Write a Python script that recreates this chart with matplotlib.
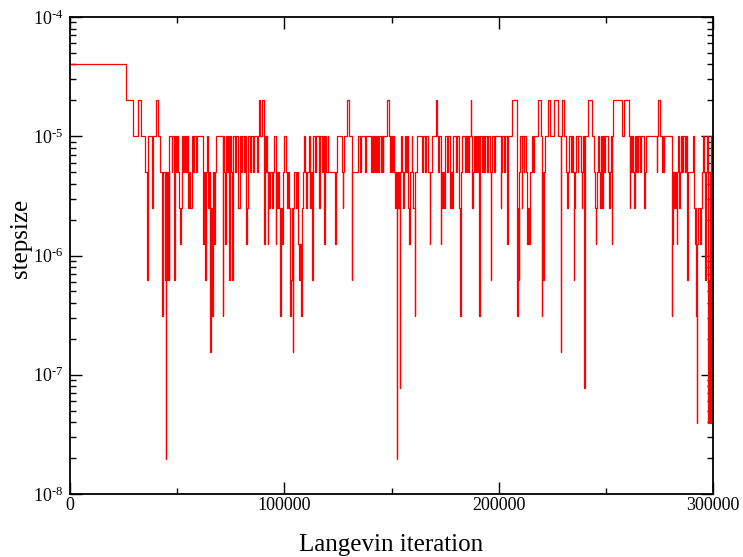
import math
import matplotlib
matplotlib.use("Agg")
import matplotlib.pyplot as plt
from matplotlib.ticker import FixedLocator, LogLocator, MultipleLocator, FuncFormatter, NullFormatter

plt.rcParams['font.family'] = ['Liberation Serif', 'DejaVu Serif']
plt.rcParams['mathtext.fontset'] = 'custom'
plt.rcParams['mathtext.rm'] = 'Liberation Serif'

# stepsize is held until the next iteration (step plot)
iteration = [
    0, 26000, 29500, 31600, 33300, 35000, 35900, 36400, 38300, 38700,
    40100, 41200, 42000, 43100, 43600, 44300, 44600, 45000, 45400, 45700,
    46000, 46400, 47400, 47800, 48500, 48800, 49500, 49900, 50600, 51000,
    51500, 51800, 52100, 52900, 53200, 53700, 54000, 54400, 54700, 55200,
    55700, 56100, 56800, 57500, 58000, 58600, 59100, 62200, 62500, 63000,
    63300, 63800, 64200, 64500, 65000, 65500, 65800, 66300, 66600, 67200,
    67500, 68100, 71200, 71500, 72000, 72300, 72600, 73300, 73700, 74200,
    74500, 75300, 75600, 75900, 77000, 77300, 78200, 78500, 79100, 79800,
    80400, 81000, 81600, 81900, 82100, 82400, 82900, 84000, 84300, 85500,
    85800, 87400, 87700, 88200, 88800, 89400, 90300, 90500, 90800, 91300,
    91600, 91900, 92200, 92500, 93000, 93400, 94100, 94500, 95300, 95900,
    96200, 96700, 97200, 97600, 98100, 98400, 98900, 99400, 100000, 100600,
    101200, 101700, 102200, 102600, 102900, 103400, 103900, 104200, 104600, 105300,
    105700, 106500, 107000, 107300, 107800, 108100, 108500, 109300, 109800, 110200,
    110700, 111500, 112000, 112400, 113100, 113400, 114300, 114800, 116300, 116600,
    117700, 118200, 118700, 119000, 119300, 120200, 120500, 123600, 124000, 124400,
    126700, 127200, 127500, 128000, 129100, 130300, 131400, 131700, 134500, 135300,
    135600, 137600, 137900, 140400, 140700, 141200, 141500, 142000, 142300, 142600,
    143100, 143800, 144300, 145100, 145400, 145900, 146200, 147900, 148900, 149300,
    149600, 150100, 150400, 150900, 151200, 151300, 151600, 152300, 152600, 152700,
    153000, 153200, 153700, 153800, 154000, 154400, 155100, 155500, 155800, 156300,
    156800, 157100, 157500, 157900, 158300, 158600, 159400, 159700, 160200, 160800,
    161100, 161700, 164100, 164500, 165600, 166100, 167200, 167800, 168100, 168700,
    170600, 171100, 171800, 172300, 173000, 173200, 173700, 174200, 174700, 175000,
    175700, 176200, 177300, 177800, 178400, 178800, 179900, 180400, 181500, 182000,
    182300, 182700, 184300, 184800, 185100, 185400, 185800, 186200, 186900, 187100,
    187400, 188000, 188500, 188900, 189300, 189900, 190200, 191000, 191300, 192100,
    192500, 193300, 193600, 194400, 195200, 195900, 196300, 196600, 197000, 197700,
    198300, 200900, 201200, 201700, 202600, 203100, 203700, 204000, 204400, 206100,
    208400, 208700, 208900, 209300, 209600, 210100, 210700, 211000, 211700, 212000,
    212600, 213100, 213800, 214300, 214600, 215400, 216200, 216500, 218500, 219700,
    220100, 220400, 220800, 221100, 221500, 222900, 223800, 226000, 227800, 228900,
    229200, 229700, 230500, 231400, 232000, 232400, 233000, 233700, 234100, 234500,
    235000, 235300, 235600, 236100, 236900, 237200, 238400, 238700, 239000, 239500,
    240000, 240300, 241800, 243700, 244300, 244900, 245300, 245600, 246000, 246500,
    247000, 247300, 247600, 248100, 248400, 248800, 249300, 249800, 250900, 251300,
    251900, 252400, 252700, 253000, 253200, 257400, 258300, 260800, 261100, 261400,
    261900, 262200, 262700, 263100, 263400, 263900, 264400, 264800, 265200, 265900,
    266200, 267900, 268300, 268700, 273700, 274000, 274500, 275300, 276400, 276700,
    277000, 277300, 280700, 281000, 281300, 281600, 282300, 282600, 283000, 283400,
    283800, 284300, 284600, 285100, 285700, 286200, 286900, 287400, 288000, 288300,
    290800, 291100, 291400, 291900, 292200, 292500, 292700, 293200, 293800, 294400,
    294700, 295200, 295600, 296300, 296600, 297200, 297500, 297800, 298100, 298400,
    298700, 299100, 299400, 300000,
]

stepsize = [
    4e-5, 2e-5, 1e-5, 2e-5, 1e-5, 5e-6, 6.25e-7, 1e-5, 2.5e-6, 1e-5,
    2e-5, 1e-5, 5e-6, 3.13e-7, 5e-6, 6.25e-7, 1.95e-8, 5e-6, 6.25e-7, 5e-6,
    6.25e-7, 1e-5, 5e-6, 1e-5, 6.25e-7, 1e-5, 5e-6, 1e-5, 5e-6, 2.5e-6,
    1.25e-6, 2.5e-6, 1e-5, 5e-6, 1e-5, 5e-6, 1e-5, 5e-6, 1e-5, 2.5e-6,
    5e-6, 2.5e-6, 1e-5, 5e-6, 1e-5, 5e-6, 1e-5, 1.25e-6, 5e-6, 6.25e-7,
    5e-6, 1e-5, 5e-6, 2.5e-6, 5e-6, 1.56e-7, 2.5e-6, 3.13e-7, 5e-6, 1.25e-6,
    5e-6, 1e-5, 3.13e-7, 1e-5, 5e-6, 1.25e-6, 1e-5, 5e-6, 1e-5, 6.25e-7,
    1e-5, 5e-6, 6.25e-7, 1e-5, 5e-6, 1e-5, 5e-6, 2.5e-6, 1e-5, 5e-6,
    1e-5, 5e-6, 1e-5, 2.5e-6, 1.25e-6, 2.5e-6, 1e-5, 5e-6, 1e-5, 5e-6,
    1e-5, 5e-6, 1e-5, 2e-5, 1e-5, 2e-5, 1e-5, 1.25e-6, 1e-5, 5e-6,
    1e-5, 5e-6, 1.25e-6, 5e-6, 2.5e-6, 5e-6, 2.5e-6, 5e-6, 1e-5, 1.25e-6,
    5e-6, 2.5e-6, 5e-6, 2.5e-6, 3.13e-7, 2.5e-6, 1.25e-6, 5e-6, 1e-5, 5e-6,
    2.5e-6, 5e-6, 2.5e-6, 3.13e-7, 6.25e-7, 2.5e-6, 1.56e-7, 2.5e-6, 5e-6, 2.5e-6,
    5e-6, 1.25e-6, 6.25e-7, 1.25e-6, 3.13e-7, 2.5e-6, 5e-6, 1e-5, 5e-6, 2.5e-6,
    5e-6, 1e-5, 2.5e-6, 5e-6, 6.25e-7, 1e-5, 5e-6, 1e-5, 2.5e-6, 1e-5,
    5e-6, 1e-5, 1.25e-6, 1e-5, 5e-6, 1e-5, 5e-6, 1.25e-6, 5e-6, 1e-5,
    5e-6, 2.5e-6, 5e-6, 1e-5, 2e-5, 1e-5, 6.25e-7, 5e-6, 1e-5, 5e-6,
    1e-5, 5e-6, 1e-5, 5e-6, 1e-5, 5e-6, 1e-5, 5e-6, 1e-5, 5e-6,
    1e-5, 5e-6, 1e-5, 5e-6, 1e-5, 5e-6, 1e-5, 2e-5, 1e-5, 5e-6,
    1e-5, 5e-6, 1e-5, 5e-6, 1e-5, 5e-6, 2.5e-6, 5e-6, 1.95e-8, 2.5e-6,
    5e-6, 2.5e-6, 5e-6, 7.81e-8, 5e-6, 1e-5, 5e-6, 2.5e-6, 5e-6, 1e-5,
    5e-6, 1e-5, 5e-6, 2.5e-6, 1.25e-6, 5e-6, 1e-5, 5e-6, 2.5e-6, 3.13e-7,
    5e-6, 1e-5, 5e-6, 1e-5, 5e-6, 1e-5, 5e-6, 1.25e-6, 5e-6, 1e-5,
    2e-5, 1e-5, 5e-6, 1e-5, 1.25e-6, 5e-6, 2.5e-6, 5e-6, 2.5e-6, 1e-5,
    5e-6, 1e-5, 2.5e-6, 5e-6, 2.5e-6, 1e-5, 5e-6, 1e-5, 2.5e-6, 3.13e-7,
    5e-6, 1e-5, 5e-6, 1e-5, 5e-6, 1e-5, 5e-6, 1e-5, 2e-5, 1e-5,
    2.5e-6, 5e-6, 1e-5, 5e-6, 1e-5, 5e-6, 1e-5, 3.13e-7, 1e-5, 5e-6,
    1e-5, 5e-6, 1e-5, 5e-6, 1e-5, 5e-6, 6.25e-7, 5e-6, 1e-5, 5e-6,
    1e-5, 2.5e-6, 5e-6, 1e-5, 5e-6, 1e-5, 5e-6, 1.25e-6, 1e-5, 2e-5,
    1e-5, 3.13e-7, 2.5e-6, 6.25e-7, 5e-6, 1e-5, 2.5e-6, 1e-5, 5e-6, 1e-5,
    5e-6, 1.25e-6, 2.5e-6, 1.25e-6, 5e-6, 1e-5, 5e-6, 1e-5, 2e-5, 1e-5,
    3.13e-7, 5e-6, 6.25e-7, 5e-6, 1e-5, 2e-5, 1e-5, 2e-5, 1e-5, 1.56e-7,
    1e-5, 2e-5, 1e-5, 5e-6, 2.5e-6, 5e-6, 1e-5, 5e-6, 1e-5, 5e-6,
    6.25e-7, 2.5e-6, 5e-6, 1e-5, 5e-6, 1e-5, 5e-6, 2.5e-6, 5e-6, 1e-5,
    7.81e-8, 1e-5, 2e-5, 1e-5, 5e-6, 2.5e-6, 1.25e-6, 2.5e-6, 5e-6, 1e-5,
    5e-6, 2.5e-6, 1e-5, 5e-6, 2.5e-6, 1e-5, 5e-6, 1e-5, 5e-6, 2.5e-6,
    5e-6, 1e-5, 1.25e-6, 1e-5, 2e-5, 1e-5, 2e-5, 1e-5, 2.5e-6, 1e-5,
    5e-6, 1e-5, 5e-6, 2.5e-6, 1e-5, 5e-6, 1e-5, 5e-6, 1e-5, 5e-6,
    1e-5, 2.5e-6, 5e-6, 1e-5, 5e-6, 1e-5, 2e-5, 1e-5, 5e-6, 1e-5,
    5e-6, 1e-5, 3.13e-7, 1.25e-6, 5e-6, 2.5e-6, 5e-6, 2.5e-6, 1.25e-6, 5e-6,
    1e-5, 2.5e-6, 5e-6, 1e-5, 5e-6, 1e-5, 5e-6, 1e-5, 6.25e-7, 5e-6,
    1e-5, 2.5e-6, 1.25e-6, 2.5e-6, 3.13e-7, 3.91e-8, 1.25e-6, 2.5e-6, 1.25e-6, 2.5e-6,
    5e-6, 1e-5, 5e-6, 6.25e-7, 5e-6, 1e-5, 2.5e-6, 3.91e-8, 6.25e-7, 5e-6,
    3.91e-8, 1e-5, 5e-6, 5e-6,
]

x_ticks = [0, 100000, 200000, 300000]
y_ticks = [1e-8, 1e-7, 1e-6, 1e-5, 1e-4]

fig = plt.figure(figsize=(7.43, 5.57), dpi=100)
ax = fig.add_axes([70 / 743, 1 - 494 / 557, 643 / 743, 477 / 557])

ax.step(iteration, stepsize, where='post', color='red', lw=0.9)

ax.set_yscale('log')
ax.set_xlim(0, 300000)
ax.set_ylim(1e-8, 1e-4)

ax.xaxis.set_major_locator(FixedLocator(x_ticks))
ax.xaxis.set_minor_locator(MultipleLocator(50000))
ax.set_xticklabels([str(t) for t in x_ticks])

ax.yaxis.set_major_locator(FixedLocator(y_ticks))
ax.yaxis.set_minor_locator(LogLocator(base=10, subs=range(2, 10)))
ax.yaxis.set_minor_formatter(NullFormatter())


def decade_label(v, pos):
    # Grace style: plain hyphen in the exponent
    return r'$\mathregular{10^{\text{-}%d}}$' % abs(round(math.log10(v)))


ax.yaxis.set_major_formatter(FuncFormatter(decade_label))

ax.tick_params(which='both', direction='in', top=True, right=True, width=1, labelsize=13)
ax.tick_params(which='major', length=8.5)
ax.tick_params(which='minor', length=4.3)
ax.tick_params(axis='x', pad=2)
ax.tick_params(axis='y', pad=5)
for s in ax.spines.values():
    s.set_linewidth(1.3)

ax.set_xlabel('Langevin iteration', fontsize=18, va='center')
ax.xaxis.set_label_coords(0.5, (494 - 545) / 477)
ax.set_ylabel('stepsize', fontsize=18, va='center', ha='center')
ax.yaxis.set_label_coords((21 - 70) / 643, (494 - 238) / 477)

fig.savefig('out.png', dpi=100)
